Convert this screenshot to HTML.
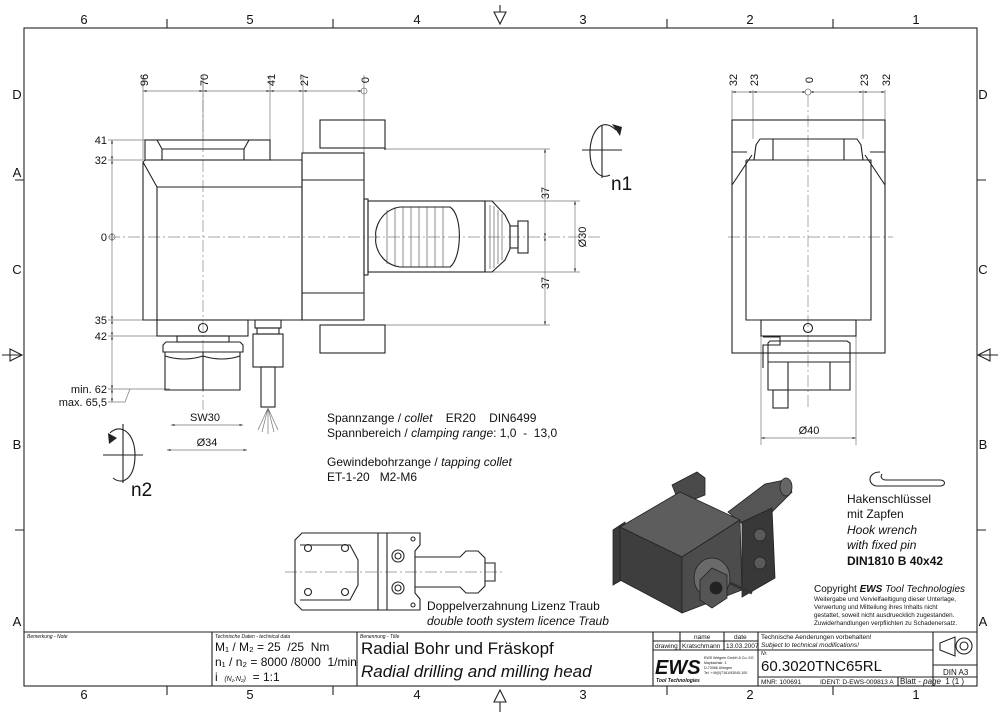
<!DOCTYPE html>
<html><head><meta charset="utf-8"><style>
html,body{margin:0;padding:0;background:#fff}
svg{display:block}
text{font-family:"Liberation Sans Narrow","Liberation Sans",sans-serif;fill:#111;white-space:pre}
.l{stroke:#222;stroke-width:1.1;fill:none}
.t{stroke:#777;stroke-width:.7;fill:none}
.c{stroke:#888;stroke-width:.7;fill:none;stroke-dasharray:12 3 2 3}
.w{fill:#fff;stroke:#222;stroke-width:1.1}
</style></head><body>
<svg width="1000" height="715" viewBox="0 0 1000 715" xmlns="http://www.w3.org/2000/svg" xml:space="preserve">
<defs><marker id="a" viewBox="0 0 10 10" refX="10" refY="5" markerWidth="6" markerHeight="5" orient="auto-start-reverse"><path d="M0,2 L10,5 L0,8z" fill="#333"/></marker></defs>
<rect x="24" y="28" width="953" height="658" class="l"/>
<g font-size="13" fill="#333" text-anchor="middle">
<text x="84" y="24">6</text><text x="250" y="24">5</text><text x="417" y="24">4</text><text x="583" y="24">3</text><text x="750" y="24">2</text><text x="916" y="24">1</text>
<text x="84" y="699">6</text><text x="250" y="699">5</text><text x="417" y="699">4</text><text x="583" y="699">3</text><text x="750" y="699">2</text><text x="916" y="699">1</text>
<text x="17" y="99">D</text><text x="17" y="177">A</text><text x="17" y="274">C</text><text x="17" y="449">B</text><text x="17" y="626">A</text>
<text x="983" y="99">D</text><text x="983" y="274">C</text><text x="983" y="449">B</text><text x="983" y="626">A</text>
</g>
<g class="l">
<path d="M167,19V28M333,19V28M667,19V28M833,19V28M167,686V695M333,686V695M667,686V695M833,686V695"/>
<path d="M15,180H24M15,530H24M977,180H986M977,530H986"/>
<path d="M494,12L506,12L500,24Z M500,5V12"/>
<path d="M494,702L506,702L500,690Z M500,702V712"/>
<path d="M10,349L10,361L22,355Z M22,355H2"/>
<path d="M990,349L990,361L978,355Z M978,355H998"/>
</g>

<line x1="108" y1="237" x2="600" y2="237" class="c"/>
<line x1="203" y1="80" x2="203" y2="410" class="c"/>
<g class="t">
<path d="M143,75V160M203,75V140M270,75V140M303,75V153M364,75V237"/>
<path d="M108,140H145M108,160H143M108,320H157M108,336H157M108,389H170M108,402H125L130,389"/>
<path d="M385,149H550M385,325H550M487,201H580M487,272H580"/>
</g>
<g class="t" marker-start="url(#a)" marker-end="url(#a)">
<line x1="143" y1="91" x2="203" y2="91"/><line x1="203" y1="91" x2="270" y2="91"/><line x1="270" y1="91" x2="303" y2="91"/><line x1="303" y1="91" x2="362" y2="91"/>
<line x1="112" y1="140" x2="112" y2="160"/><line x1="112" y1="160" x2="112" y2="237"/><line x1="112" y1="237" x2="112" y2="320"/><line x1="112" y1="320" x2="112" y2="336"/><line x1="112" y1="336" x2="112" y2="389"/><line x1="112" y1="389" x2="112" y2="402"/>
<line x1="545" y1="149" x2="545" y2="237"/><line x1="545" y1="237" x2="545" y2="325"/>
<line x1="575" y1="201" x2="575" y2="272"/>
<line x1="171" y1="425" x2="243" y2="425"/><line x1="167" y1="450" x2="247" y2="450"/>
<line x1="761" y1="438" x2="856" y2="438"/>
<line x1="732" y1="92" x2="753" y2="92"/><line x1="753" y1="92" x2="806" y2="92"/><line x1="810" y1="92" x2="863" y2="92"/><line x1="863" y1="92" x2="885" y2="92"/>
</g>
<circle cx="364" cy="91" r="3" class="t"/><circle cx="112" cy="237" r="3" class="t"/>
<g font-size="11" text-anchor="middle">
<text transform="translate(148,80) rotate(-90)">96</text>
<text transform="translate(208,80) rotate(-90)">70</text>
<text transform="translate(275,80) rotate(-90)">41</text>
<text transform="translate(308,80) rotate(-90)">27</text>
<text transform="translate(369,80) rotate(-90)">0</text>
<text transform="translate(549,193) rotate(-90)">37</text>
<text transform="translate(549,283) rotate(-90)">37</text>
<text transform="translate(586,237) rotate(-90)">Ø30</text>
</g>
<g font-size="11" text-anchor="end">
<text x="107" y="144">41</text><text x="107" y="164">32</text><text x="107" y="241">0</text>
<text x="107" y="324">35</text><text x="107" y="340">42</text>
<text x="107" y="393">min. 62</text><text x="107" y="406">max. 65,5</text>
</g>
<text x="205" y="421" font-size="11" text-anchor="middle">SW30</text>
<text x="207" y="446" font-size="11" text-anchor="middle">Ø34</text>

<rect x="145" y="140" width="125" height="20" class="l"/>
<path d="M162,160V149L157,140M244,160V149L249,140M162,149H244" class="l"/>
<path d="M143,162L143,320L302,320L302,160L145,160ZM143,162L157,187H302M157,187V320" class="l"/>
<rect x="302" y="153" width="62" height="167" class="l"/>
<path d="M302,180H364M302,293H364" class="l"/>
<rect x="320" y="120" width="65" height="28" class="l"/>
<rect x="320" y="325" width="65" height="28" class="l"/>
<path d="M364,148H385V150M364,325H385" class="l"/>
<rect x="364" y="199" width="4" height="76" class="l"/>
<rect x="368" y="201" width="117" height="71" class="l"/>
<path d="M400,207 C380,210 374,230 376,237 C374,245 380,264 400,267 L450,267 C462,258 463,215 450,207 Z" class="l"/>
<path d="M387,210V264M395,207V267M403,207V267M411,207V267M419,207V267M427,207V267M435,207V267M443,207V267" stroke="#444" stroke-width=".6"/>
<path d="M485,201L492,201L505,215L510,225V249L505,260L492,272H485Z" class="l"/>
<path d="M490,205V269M494,206V268M498,210V264M502,214V260" stroke="#444" stroke-width=".6"/>
<rect x="510" y="226" width="8" height="22" class="l"/><rect x="518" y="221" width="10" height="32" class="l"/>
<rect x="157" y="320" width="91" height="16" class="l"/>
<circle cx="203" cy="328" r="4.5" class="l"/>
<rect x="177" y="336" width="52" height="6" class="l"/>
<path d="M163,345L166,342H240L243,345V352H163Z" class="l"/>
<path d="M165,352V390H240V352M203,352V390M165,356Q184,362 203,356Q222,362 240,356" class="l"/>
<rect x="255" y="320" width="26" height="8" class="l"/><rect x="257" y="328" width="22" height="6" class="l"/>
<rect x="253" y="334" width="30" height="33" class="l"/>
<rect x="261" y="367" width="14" height="40" class="l"/>
<path d="M268,408L258,430M268,408L262,432M268,408L268,434M268,408L274,432M268,408L278,430" class="t"/>
<path d="M582,150H622M602,125V178" class="l" stroke-width=".8"/>
<path d="M616,130 C600,115 590,135 590,152 C590,170 600,180 610,175" class="l"/>
<path d="M612,124L620,136L622,127Z" fill="#222"/>
<text x="611" y="190" font-size="19">n1</text>
<path d="M103,455H143M123,424V483" class="l" stroke-width=".8"/>
<path d="M110,433 C120,423 135,432 135,455 C135,478 123,486 113,478" class="l"/>
<path d="M108,433L117,438L109,444Z" fill="#222"/>
<text x="131" y="496" font-size="19">n2</text>

<line x1="728" y1="237" x2="893" y2="237" class="c"/>
<line x1="808" y1="95" x2="808" y2="410" class="c"/>
<g class="t"><path d="M732,90V120M753,90V139M863,90V139M885,90V120M761,336V445M856,336V445"/></g>
<circle cx="808" cy="92" r="3" class="t"/>
<g font-size="11" text-anchor="middle">
<text transform="translate(737,80) rotate(-90)">32</text><text transform="translate(758,80) rotate(-90)">23</text>
<text transform="translate(813,80) rotate(-90)">0</text><text transform="translate(868,80) rotate(-90)">23</text><text transform="translate(890,80) rotate(-90)">32</text>
<text x="809" y="434">Ø40</text>
</g>
<rect x="732" y="120" width="153" height="233" class="l"/>
<path d="M732,152H747M870,152H885M746,160V320H871V160H746M732,185L752,155M885,185L865,155" class="l"/>
<path d="M754,160L756,145L760,139H857L861,145L863,160M773,139V160M844,139V160" class="l"/>
<rect x="761" y="320" width="95" height="16" class="l"/><circle cx="808" cy="328" r="4.5" class="l"/>
<path d="M768,343L770,341H847L850,343V390H768ZM768,362H850M788,362V390M830,362V390M763,337H780V345H763V368" class="l"/>
<rect x="773" y="390" width="15" height="18" class="l"/>

<g font-size="12">
<text x="327" y="422">Spannzange / <tspan font-style="italic">collet</tspan>    ER20    DIN6499</text>
<text x="327" y="437">Spannbereich / <tspan font-style="italic">clamping range</tspan>: 1,0  -  13,0</text>
<text x="327" y="466">Gewindebohrzange / <tspan font-style="italic">tapping collet</tspan></text>
<text x="327" y="481">ET-1-20   M2-M6</text>
<text x="427" y="610">Doppelverzahnung Lizenz Traub</text>
<text x="427" y="625" font-style="italic">double tooth system licence Traub</text>
<text x="847" y="503">Hakenschlüssel</text><text x="847" y="518">mit Zapfen</text>
<text x="847" y="534" font-style="italic">Hook wrench</text><text x="847" y="549" font-style="italic">with fixed pin</text>
<text x="847" y="565" font-weight="bold">DIN1810 B 40x42</text>
</g>
<text x="814" y="592" font-size="10" font-family="Liberation Sans">Copyright <tspan font-weight="bold" font-style="italic">EWS</tspan> <tspan font-style="italic">Tool Technologies</tspan></text>
<g font-size="6.3" font-family="Liberation Sans"><text x="814" y="601">Weitergabe und Vervielfaeltigung dieser Unterlage,</text><text x="814" y="609">Verwertung und Mitteilung ihres Inhalts nicht</text><text x="814" y="617">gestattet, soweit nicht ausdruecklich zugestanden.</text><text x="814" y="625">Zuwiderhandlungen verpflichten zu Schadenersatz.</text></g>
<path d="M880,472 C868,472 867,484 876,486 L940,486 C946,486 946,480 940,480 L886,480 C882,480 880,477 882,474" class="l"/>

<line x1="285" y1="572" x2="505" y2="572" class="c"/>
<path d="M302,533H420V545L415,551V593L420,599V610H302L295,603V540Z" class="l"/>
<path d="M378,533V610M387,533V610M300,545H350L358,560V585L350,600H300" class="l"/>
<g class="l"><circle cx="308" cy="548" r="3.5"/><circle cx="345" cy="548" r="3.5"/><circle cx="308" cy="592" r="3.5"/><circle cx="345" cy="592" r="3.5"/><circle cx="398" cy="556" r="6"/><circle cx="398" cy="588" r="6"/><circle cx="398" cy="556" r="3"/><circle cx="398" cy="588" r="3"/><circle cx="413" cy="539" r="2"/><circle cx="413" cy="605" r="2"/></g>
<path d="M415,557H460L466,551H478L485,558V586L478,593H466L460,587H415M485,563H495V581H485" class="l"/>

<g stroke="#222" stroke-width=".8">
<path d="M672,485L697,472L705,478L705,495L680,505Z" fill="#4a4a4a"/>
<path d="M613,530L625,522L625,578L613,585Z" fill="#3a3a3a"/>
<path d="M728,512L765,484L785,480L792,492L772,512L745,526Z" fill="#555"/>
<ellipse cx="786" cy="487" rx="6" ry="9" fill="#666"/>
<path d="M620,527L680,492L740,520L682,557Z" fill="#5d5d5d"/>
<path d="M620,527L682,557L682,613L620,580Z" fill="#3e3e3e"/>
<path d="M682,557L740,520L742,590L682,613Z" fill="#4c4c4c"/>
<path d="M742,522L772,508L775,578L742,597Z" fill="#383838"/>
<circle cx="760" cy="535" r="6" fill="#5a5a5a"/><circle cx="760" cy="563" r="6" fill="#5a5a5a"/>
<ellipse cx="712" cy="578" rx="18" ry="20" fill="#6a6a6a"/>
<path d="M700,580L712,568L727,575L727,598L712,608L700,600Z" fill="#555"/>
<circle cx="716" cy="588" r="6" fill="#222"/>
<path d="M730,583L752,593" stroke="#333" stroke-width="3"/>
</g>

<g class="l">
<path d="M24,632H977M212,632V686M357,632V686M653,632V686M758,632V686M933,632V686"/>
<path d="M653,641H758M653,650H933M680,632V650M724,632V650M758,677H977M898,677V686M933,665H977"/>
<path d="M940,643L955,637V656L940,650Z"/><circle cx="964" cy="646" r="8"/><circle cx="964" cy="646" r="4"/>
</g>
<g font-size="5" font-style="italic" fill="#333"><text x="27" y="638">Bemerkung - Note</text><text x="215" y="638">Technische Daten - technical data</text><text x="360" y="638">Benennung - Title</text><text x="761" y="655">Nr.</text></g>
<g font-size="12"><text x="215" y="651">M₁ / M₂ = 25  /25  Nm</text><text x="215" y="666">n₁ / n₂ = 8000 /8000  1/min</text><text x="215" y="681">i  <tspan font-size="7" font-style="italic">(N₁:N₂)</tspan>  = 1:1</text></g>
<text x="361" y="654" font-size="17">Radial Bohr und Fräskopf</text>
<text x="361" y="677" font-size="17" font-style="italic">Radial drilling and milling head</text>
<g font-size="6.5"><text x="694" y="639">name</text><text x="734" y="639">date</text><text x="655" y="648">drawing</text><text x="682" y="648">Kratschmann</text><text x="726" y="648">13.03.2007</text>
<text x="761" y="639">Technische Aenderungen vorbehalten!</text><text x="761" y="647" font-style="italic">Subject to technical modifications!</text>
<text x="761" y="684">MNR: 100691</text><text x="820" y="684">IDENT: D-EWS-009813 A</text></g>
<text x="761" y="671" font-size="15">60.3020TNC65RL</text>
<text x="943" y="675" font-size="8">DIN A3</text>
<text x="900" y="684" font-size="8">Blatt - <tspan font-style="italic">page</tspan>  1 (1 )</text>
<text x="655" y="674" font-size="20" font-weight="bold" font-style="italic" font-family="Liberation Sans">EWS</text>
<text x="656" y="682" font-size="5" font-weight="bold" font-style="italic" font-family="Liberation Sans">Tool Technologies</text>
<g font-size="3.6" font-family="Liberation Sans"><text x="704" y="659">EWS Weigele GmbH &amp; Co. KG</text><text x="704" y="664">Maybachstr. 1</text><text x="704" y="669">D-73066 Uhingen</text><text x="704" y="674">Tel. +49(0)7161/93040-100</text></g>
</svg>
</body></html>
